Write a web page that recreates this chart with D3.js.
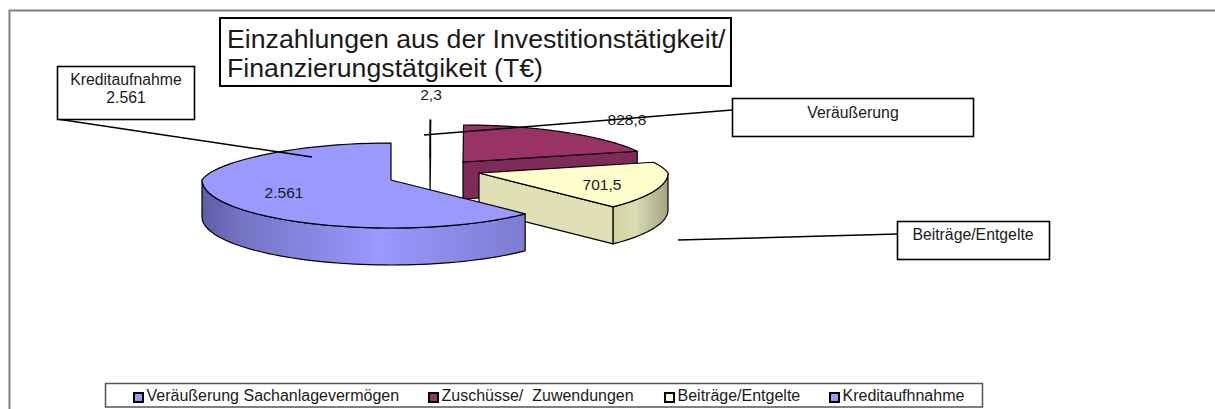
<!DOCTYPE html>
<html>
<head>
<meta charset="utf-8">
<script src="https://cdn.jsdelivr.net/npm/d3@7"></script>
<style>
  html, body { margin: 0; padding: 0; background: #fff; overflow: hidden; }
  text { font-family: "Liberation Sans", Arial, sans-serif; fill: #1a1a1a; }
</style>
</head>
<body>
<div id="chart"></div>
<script>
const categories = ['Veräußerung Sachanlagevermögen', 'Zuschüsse/  Zuwendungen', 'Beiträge/Entgelte', 'Kreditaufhnahme'];
const values = [2.3, 828.8, 701.5, 2561];
const valueLabels = ['2,3', '828,8', '701,5', '2.561'];
const topColors = ['#9999ff', '#993366', '#ffffcc', '#9999ff'];
const cutColors = ['#7f7fd4', '#7f2a58', '#e0e0b4', '#7f7fd4'];
const titleLines = ['Einzahlungen aus der Investitionstätigkeit/', 'Finanzierungstätgikeit (T€)'];

const width = 1215, height = 409;
const svg = d3.select('#chart').append('svg')
    .attr('width', width).attr('height', height)
    .style('display', 'block');

// Rahmen, nur oben und links sichtbar
svg.append('path')
    .attr('d', 'M9.5,409V10.5H1215')
    .attr('fill', 'none').attr('stroke', '#808080').attr('stroke-width', 2);

// Tortenstuecke von oben im Uhrzeigersinn
const arcs = d3.pie().sort(null).value(d => d)(values);

const rx = 189, ryBack = 37, ryFront = 48, depth = 37, persp = 0.13;
// Explosion: Spitze jedes Stuecks
const apex = [[430, 157], [463, 162], [479, 173], [391, 180]];

const rim = (i, a, dy = 0) => {
    const c = Math.cos(a);
    // hinten perspektivisch schmaler
    const s = c > 0 ? 1 / (1 + persp * c) : 1;
    return [apex[i][0] + rx * Math.sin(a) * s, apex[i][1] - (c > 0 ? ryBack : ryFront) * c + dy];
};
const line = d3.line();
const rimPts = (i, a0, a1, dy = 0) => d3.range(0, 61).map(k => rim(i, a0 + (a1 - a0) * k / 60, dy));

const defs = svg.append('defs');
function grad(id, stops) {
    const g = defs.append('linearGradient').attr('id', id);
    stops.forEach(s => g.append('stop').attr('offset', s[0]).attr('stop-color', s[1]));
}
grad('side-kredit', [[0, '#5c5ca8'], [0.12, '#7474c4'], [0.55, '#9999ff'], [1, '#7c7cd0']]);
grad('side-beitrag', [[0, '#d2d2a6'], [0.4, '#dcdcb2'], [1, '#a3a384']]);

const pie = svg.append('g').attr('stroke', '#000').attr('stroke-width', 1.2).attr('stroke-linejoin', 'round');

arcs.forEach((d, i) => {
    const g = pie.append('g');
    const a0 = d.startAngle, a1 = d.endAngle;

    // Schnittflaeche vorn (nur wenn das Stueck rechts davon nach vorn zeigt)
    if (i < 3) {
        const rimA = rim(i, a1);
        const p = [apex[i], rimA, [rimA[0], rimA[1] + depth], [apex[i][0], apex[i][1] + depth]];
        g.append('path').attr('d', line(p) + 'Z').attr('fill', cutColors[i]);
    }
    // Aussenwand, nur der vordere Teil des Randes
    const f0 = Math.max(a0, Math.PI / 2), f1 = Math.min(a1, Math.PI * 1.5);
    if (f1 > f0) {
        const wall = rimPts(i, f0, f1).concat(rimPts(i, f1, f0, depth));
        g.append('path').attr('d', line(wall) + 'Z')
            .attr('fill', i === 3 ? 'url(#side-kredit)' : 'url(#side-beitrag)');
    }
    // Deckflaeche
    const top = [apex[i]].concat(rimPts(i, a0, a1));
    g.append('path').attr('d', line(top) + 'Z').attr('fill', topColors[i]);
});

function box(x, y, w, h, sw, col) {
    svg.append('rect')
        .attr('x', x).attr('y', y).attr('width', w).attr('height', h)
        .attr('fill', '#fff').attr('stroke', col || '#000').attr('stroke-width', sw);
}
function label(t, x, y, size, anchor) {
    return svg.append('text').attr('x', x).attr('y', y)
        .attr('font-size', size).attr('text-anchor', anchor || 'middle')
        .attr('xml:space', 'preserve').style('white-space', 'pre').text(t);
}
function leader(x1, y1, x2, y2) {
    svg.append('line').attr('x1', x1).attr('y1', y1).attr('x2', x2).attr('y2', y2)
        .attr('stroke', '#000').attr('stroke-width', 1.5);
}

// Datenbeschriftung
label(valueLabels[0], 431, 100, 15.5);
label(valueLabels[1], 627, 125, 15.5);
label(valueLabels[2], 602, 190, 15.5);
label(valueLabels[3], 284, 198, 15.5);

// Hinweislinien
leader(57, 119, 312, 157);
leader(732, 110, 424, 135);
leader(678, 240, 897, 234);

// Titel
box(220, 18, 511, 68, 2);
titleLines.forEach((t, i) => label(t, 227, 48 + i * 29, 26.7, 'start'));

// Hinweisfelder
box(57.5, 66.5, 137, 53, 1.6);
label('Kreditaufnahme', 126, 85, 15.8);
label(valueLabels[3], 126, 103, 15.8);
box(732.5, 98.5, 241, 38, 1.6);
label('Veräußerung', 853, 118, 15.8);
box(897.5, 221.5, 152, 38, 1.6);
label('Beiträge/Entgelte', 973, 240, 15.8);

// Legende
box(105.5, 383.5, 877, 23.5, 1.5, '#555');
const legendX = [134, 429, 665, 830];
categories.forEach((c, i) => {
    svg.append('rect').attr('x', legendX[i]).attr('y', 393).attr('width', 9).attr('height', 9)
        .attr('fill', topColors[i]).attr('stroke', '#000').attr('stroke-width', 2);
    label(c, legendX[i] + 12.5, 401, 16, 'start');
});
</script>
</body>
</html>
